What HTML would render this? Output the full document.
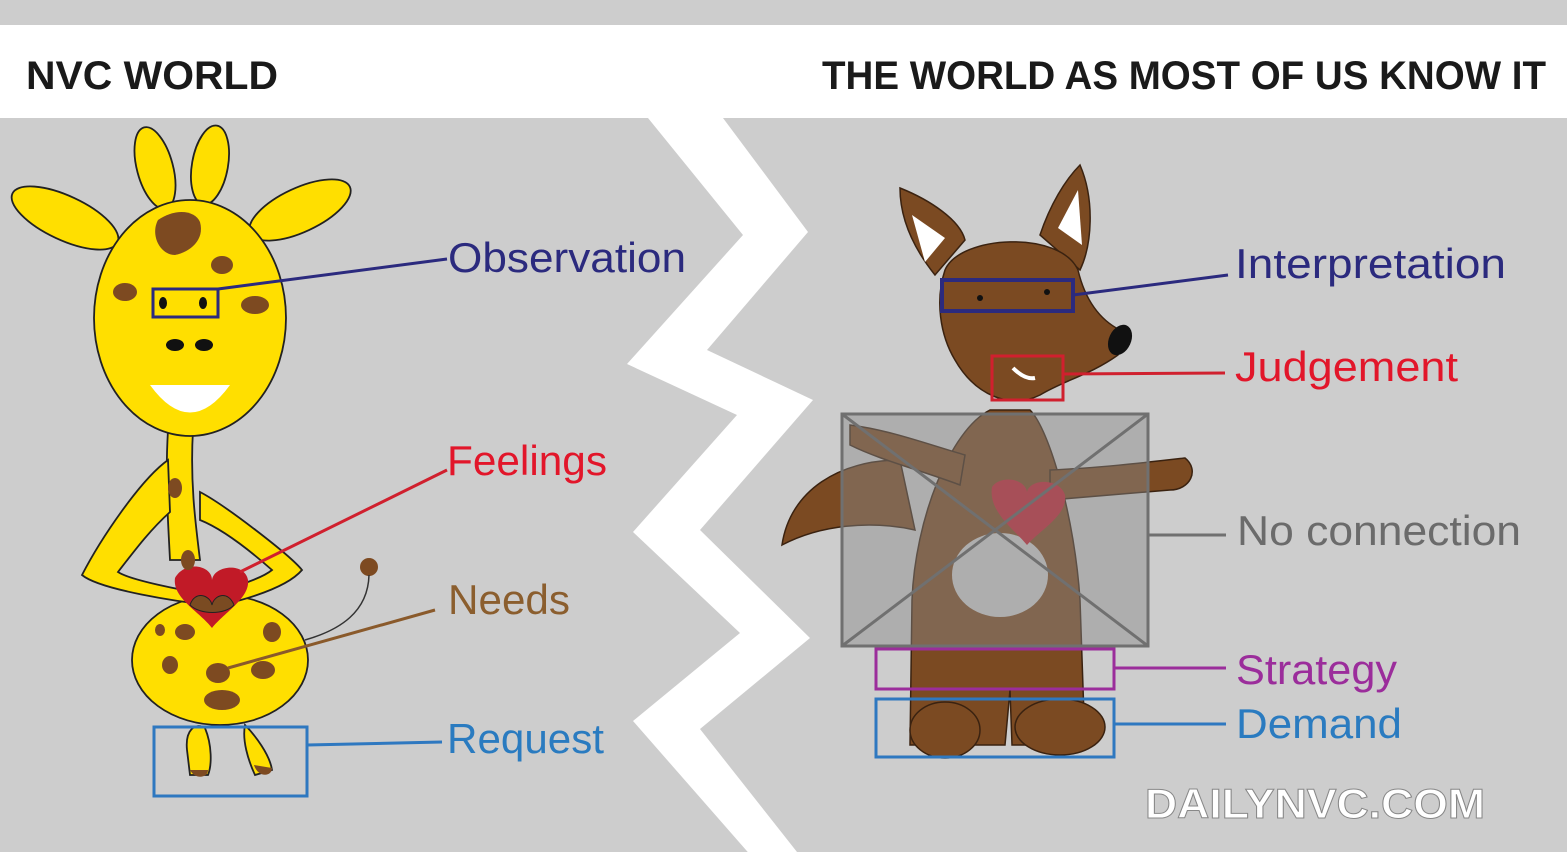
<!DOCTYPE html>
<html><head><meta charset="utf-8"><style>
html,body{margin:0;padding:0;background:#cfcfcf;}
svg{display:block}
text{font-family:"Liberation Sans",sans-serif}
</style></head><body>
<svg width="1567" height="858" viewBox="0 0 1567 858" xmlns="http://www.w3.org/2000/svg">
<rect x="0" y="0" width="1567" height="858" fill="#cdcdcd"/>
<rect x="0" y="25" width="1567" height="93" fill="#ffffff"/>
<rect x="0" y="852" width="1567" height="6" fill="#ffffff"/>
<text x="26" y="89" font-size="40" font-weight="bold" fill="#1a1a1a" textLength="252" lengthAdjust="spacingAndGlyphs">NVC  WORLD</text>
<text x="822" y="89" font-size="40" font-weight="bold" fill="#1a1a1a" textLength="724" lengthAdjust="spacingAndGlyphs">THE WORLD AS MOST OF US KNOW IT</text>
<!-- zigzag -->
<polygon fill="#ffffff" points="648,118 723,118 808,232 707,350 813,400 700,530 810,638 700,729 797,852 755,858 753,858 633,721 740,633 633,532 737,415 627,364 743,235"/>
<!-- GIRAFFE -->
<g stroke="#222" stroke-width="1.8" fill="#ffdf00">
<ellipse cx="155" cy="168" rx="18" ry="42" transform="rotate(-15 155 168)"/>
<ellipse cx="210" cy="165" rx="18" ry="40" transform="rotate(10 210 165)"/>
<ellipse cx="65" cy="218" rx="58" ry="22" transform="rotate(25 65 218)"/>
<ellipse cx="300" cy="210" rx="55" ry="22" transform="rotate(-25 300 210)"/>
<path d="M168,430 C165,480 168,520 170,560 L200,560 C195,520 190,480 193,430 Z"/>
<ellipse cx="220" cy="660" rx="88" ry="65"/>
<path d="M187,750 C185,730 195,722 205,728 C212,745 212,765 208,775 L190,775 Z"/>
<path d="M245,725 C255,735 270,755 272,770 L255,775 C248,760 242,740 245,725 Z"/>
<path d="M168,460 C140,480 100,540 82,575 C100,590 180,602 210,605 L212,595 C180,590 130,580 118,572 C135,550 150,530 170,512 Z"/>
<path d="M200,492 C225,505 290,555 302,570 C285,590 230,605 200,608 L198,596 C225,590 260,580 272,570 C255,555 225,530 200,520 Z"/>
<ellipse cx="190" cy="318" rx="96" ry="118"/>
</g>
<path d="M175,578 C185,560 212,565 212,580 C214,565 245,562 248,580 C250,598 225,612 212,628 C200,612 172,598 175,578 Z" fill="#c11a27"/>
<path d="M190,605 C195,590 210,595 212,605 C214,595 228,590 234,605 C225,615 200,615 190,605 Z" fill="#7a4b22" stroke="#222" stroke-width="1"/>
<g fill="#7d4a21">
<path d="M158,220 C175,208 195,210 200,222 C205,240 190,252 175,255 C160,255 150,235 158,220 Z"/>
<ellipse cx="222" cy="265" rx="11" ry="9"/>
<ellipse cx="125" cy="292" rx="12" ry="9"/>
<ellipse cx="255" cy="305" rx="14" ry="9"/>
<ellipse cx="175" cy="488" rx="7" ry="10"/>
<ellipse cx="188" cy="560" rx="7" ry="10"/>
<ellipse cx="185" cy="632" rx="10" ry="8"/>
<ellipse cx="160" cy="630" rx="5" ry="6"/>
<ellipse cx="272" cy="632" rx="9" ry="10"/>
<ellipse cx="170" cy="665" rx="8" ry="9"/>
<ellipse cx="218" cy="673" rx="12" ry="10"/>
<ellipse cx="263" cy="670" rx="12" ry="9"/>
<ellipse cx="222" cy="700" rx="18" ry="10"/>
<path d="M190,770 L208,770 C208,778 195,780 190,770 Z"/>
<path d="M254,765 L272,768 C272,777 258,778 254,765 Z"/>
<circle cx="369" cy="567" r="9"/>
</g>
<path d="M305,640 C340,630 368,612 369,575" fill="none" stroke="#333" stroke-width="1.5"/>
<ellipse cx="163" cy="303" rx="4" ry="6" fill="#111"/>
<ellipse cx="203" cy="303" rx="4" ry="6" fill="#111"/>
<ellipse cx="175" cy="345" rx="9" ry="6" fill="#111"/>
<ellipse cx="204" cy="345" rx="9" ry="6" fill="#111"/>
<path d="M150,385 Q190,440 230,385 Z" fill="#fff"/>
<rect x="153" y="289" width="65" height="28" fill="none" stroke="#2b2a7e" stroke-width="3"/>
<rect x="154" y="727" width="153" height="69" fill="none" stroke="#2e78c0" stroke-width="3"/>
<line x1="218" y1="289" x2="447" y2="259" stroke="#2b2a7e" stroke-width="3"/>
<line x1="240" y1="572" x2="447" y2="470" stroke="#d0202e" stroke-width="3"/>
<line x1="228" y1="668" x2="435" y2="610" stroke="#8a5a2b" stroke-width="3"/>
<line x1="307" y1="745" x2="442" y2="742" stroke="#2e78c0" stroke-width="3"/>
<g font-size="42" lengthAdjust="spacingAndGlyphs">
<text x="448" y="272" fill="#2b2a7e" textLength="238" lengthAdjust="spacingAndGlyphs">Observation</text>
<text x="447" y="475" fill="#e2162a" textLength="160" lengthAdjust="spacingAndGlyphs">Feelings</text>
<text x="448" y="614" fill="#8b5e2e" textLength="122" lengthAdjust="spacingAndGlyphs">Needs</text>
<text x="447" y="753" fill="#2a7bc0" textLength="157" lengthAdjust="spacingAndGlyphs">Request</text>
</g>
<!-- FOX -->
<g fill="#7b4a22" stroke="#3a2210" stroke-width="1.5">
<path d="M900,188 C930,200 960,220 965,240 L935,275 C915,250 900,220 900,188 Z"/>
<path d="M1080,165 C1095,200 1092,245 1080,270 L1040,235 C1050,205 1065,180 1080,165 Z"/>
<path d="M782,545 C790,490 840,460 900,460 L915,530 C870,520 820,525 782,545 Z"/>
<path d="M990,410 C950,430 915,520 912,600 L910,745 L1005,745 L1010,690 L1012,745 L1085,745 L1080,600 C1075,520 1050,430 1030,410 Z"/>
<path d="M850,425 C890,430 930,445 965,455 L960,485 C920,470 880,460 850,445 Z"/>
<path d="M1050,470 C1100,468 1150,462 1185,458 C1200,470 1190,490 1170,490 L1050,500 Z"/>
<ellipse cx="945" cy="730" rx="35" ry="28"/>
<ellipse cx="1060" cy="727" rx="45" ry="28"/>
<path d="M945,270 C960,235 1060,230 1078,270 C1085,300 1100,320 1120,330 L1118,355 C1090,375 1065,380 1040,395 C1010,410 975,395 955,360 C940,335 935,300 945,270 Z"/>
</g>
<path d="M912,215 L945,238 L925,262 Z" fill="#fff"/>
<path d="M1078,190 L1082,245 L1058,228 Z" fill="#fff"/>
<ellipse cx="1120" cy="340" rx="11" ry="16" transform="rotate(25 1120 340)" fill="#111"/>
<circle cx="980" cy="298" r="3" fill="#111"/>
<circle cx="1047" cy="292" r="3" fill="#111"/>
<path d="M1013,368 Q1025,380 1035,378" fill="none" stroke="#fff" stroke-width="4"/>
<ellipse cx="1000" cy="575" rx="48" ry="42" fill="#cdcdcd"/>
<path d="M992,487 C1000,475 1025,478 1027,492 C1030,478 1060,478 1065,495 C1068,515 1040,530 1027,545 C1015,530 988,512 992,487 Z" fill="#c02030"/>
<rect x="842" y="414" width="306" height="232" fill="#8a8a8a" fill-opacity="0.45" stroke="#707070" stroke-width="3"/>
<line x1="842" y1="414" x2="1148" y2="646" stroke="#707070" stroke-width="3"/>
<line x1="1148" y1="414" x2="842" y2="646" stroke="#707070" stroke-width="3"/>
<rect x="942" y="280" width="131" height="31" fill="none" stroke="#2b2a7e" stroke-width="4"/>
<rect x="992" y="356" width="71" height="44" fill="none" stroke="#d0202e" stroke-width="3"/>
<rect x="876" y="649" width="238" height="40" fill="none" stroke="#9b2d9b" stroke-width="3"/>
<rect x="876" y="699" width="238" height="58" fill="none" stroke="#2e78c0" stroke-width="3"/>
<line x1="1073" y1="295" x2="1228" y2="275" stroke="#2b2a7e" stroke-width="3"/>
<line x1="1063" y1="374" x2="1225" y2="373" stroke="#d0202e" stroke-width="3"/>
<line x1="1148" y1="535" x2="1226" y2="535" stroke="#707070" stroke-width="3"/>
<line x1="1114" y1="668" x2="1226" y2="668" stroke="#9b2d9b" stroke-width="3"/>
<line x1="1114" y1="724" x2="1226" y2="724" stroke="#2e78c0" stroke-width="3"/>
<g font-size="42">
<text x="1235" y="278" fill="#2b2a7e" textLength="271" lengthAdjust="spacingAndGlyphs">Interpretation</text>
<text x="1235" y="381" fill="#e2162a" textLength="223" lengthAdjust="spacingAndGlyphs">Judgement</text>
<text x="1237" y="545" fill="#6b6b6b" textLength="284" lengthAdjust="spacingAndGlyphs">No connection</text>
<text x="1236" y="684" fill="#9b2d9b" textLength="161" lengthAdjust="spacingAndGlyphs">Strategy</text>
<text x="1236" y="738" fill="#2a7bc0" textLength="166" lengthAdjust="spacingAndGlyphs">Demand</text>
</g>
<text x="1145" y="818" font-size="42" font-weight="bold" fill="#ffffff" stroke="#888" stroke-width="1" textLength="340" lengthAdjust="spacingAndGlyphs">DAILYNVC.COM</text>
</svg>
</body></html>
